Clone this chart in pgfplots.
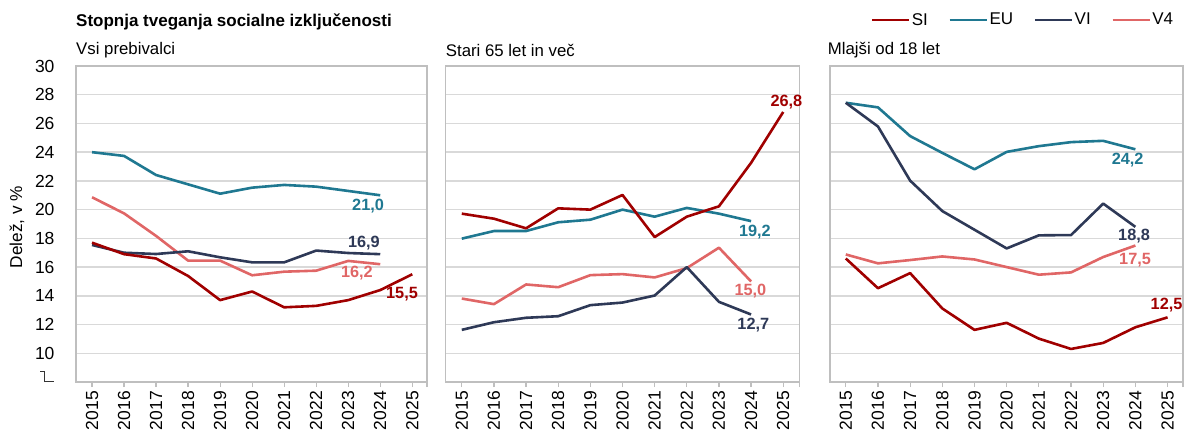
\documentclass[border=0pt]{standalone}
\usepackage{fontspec}
\setmainfont{Liberation Sans}
\usepackage{pgfplots}
\pgfplotsset{compat=1.18}
\definecolor{si}{HTML}{A00000}
\definecolor{eu}{HTML}{1F7891}
\definecolor{vi}{HTML}{2E3957}
\definecolor{vf}{HTML}{E06666}
\definecolor{gridc}{HTML}{D9D9D9}
\definecolor{boxc}{HTML}{BFBFBF}
\newcommand{\tickfont}{\fontsize{17.5}{17.5}\selectfont}
\newcommand{\lblfont}{\bfseries\fontsize{16.3}{16.3}\selectfont}
\pgfplotsset{
 panel/.style={
  scale only axis, height=316pt, anchor=south west,
  ymin=8, ymax=30,
  xtick={2015,...,2025},
  ytick={8,10,...,30},
  /pgf/number format/assume math mode=true,
  /pgf/number format/set thousands separator={},
  xticklabel style={rotate=90, anchor=east, font=\tickfont, inner sep=4pt},
  yticklabel style={font=\tickfont, xshift=-13pt},
  tick align=outside,
  xtick pos=bottom,
  major tick length=5pt,
  x tick style={boxc, line width=1.2pt},
  y tick style={draw=none},
  axis line style={boxc, line width=1.5pt},
  ymajorgrids, grid style={gridc, line width=1.5pt},
  every axis plot/.append style={line width=2.6pt, no markers, line join=round},
  clip=false,
 }}
\begin{document}
\begin{tikzpicture}
\path[use as bounding box] (0pt,0pt) rectangle (1185pt,433pt);
\node[anchor=west, font=\bfseries\fontsize{17}{17}\selectfont, inner sep=0pt] at (76pt,411.5pt) {Stopnja tveganja socialne izključenosti};
\node[anchor=west, font=\fontsize{16.8}{16.8}\selectfont, inner sep=0pt] at (76pt,382.5pt) {Vsi prebivalci};
\node[anchor=west, font=\fontsize{16.8}{16.8}\selectfont, inner sep=0pt] at (445.7pt,382.5pt) {Stari 65 let in več};
\node[anchor=west, font=\fontsize{16.8}{16.8}\selectfont, inner sep=0pt] at (827.7pt,382.5pt) {Mlajši od 18 let};
\node[rotate=90, font=\fontsize{17.2}{17.2}\selectfont, inner sep=0pt] at (17pt,206pt) {Delež, v \%};

% Panel 1
\begin{axis}[panel, at={(76pt,51pt)}, width=351pt, xmin=2014.5, xmax=2025.46,
  extra x ticks={2025.46}, extra x tick labels={},
  yticklabels={{\color{black!80}\rule[-11pt]{0pt}{11pt}\raisebox{10pt}{\rule{4pt}{1.1pt}}\rule{1.1pt}{11pt}\rule{9pt}{1.1pt}},10,12,14,16,18,20,22,24,26,28,30}]
\addplot[eu] coordinates {(2015,24.0)(2016,23.74)(2017,22.41)(2018,21.76)(2019,21.11)(2020,21.53)(2021,21.72)(2022,21.6)(2023,21.3)(2024,21.0)};
\addplot[vf] coordinates {(2015,20.86)(2016,19.74)(2017,18.17)(2018,16.45)(2019,16.45)(2020,15.43)(2021,15.68)(2022,15.75)(2023,16.43)(2024,16.2)};
\addplot[vi] coordinates {(2015,17.54)(2016,17.0)(2017,16.91)(2018,17.1)(2019,16.68)(2020,16.33)(2021,16.33)(2022,17.15)(2023,16.98)(2024,16.9)};
\addplot[si] coordinates {(2015,17.7)(2016,16.9)(2017,16.6)(2018,15.38)(2019,13.7)(2020,14.3)(2021,13.2)(2022,13.3)(2023,13.7)(2024,14.4)(2025,15.5)};
\node[font=\lblfont, text=eu] at (axis cs:2023.62,20.25) {21,0};
\node[font=\lblfont, text=vi] at (axis cs:2023.49,17.67) {16,9};
\node[font=\lblfont, text=vf] at (axis cs:2023.27,15.58) {16,2};
\node[font=\lblfont, text=si] at (axis cs:2024.68,14.12) {15,5};
\end{axis}

% Panel 2
\begin{axis}[panel, at={(445.7pt,51pt)}, width=353.6pt, xmin=2014.5, xmax=2025.5,
  extra x ticks={2025.5}, extra x tick labels={}, yticklabels={}]
\addplot[eu] coordinates {(2015,17.98)(2016,18.51)(2017,18.51)(2018,19.12)(2019,19.3)(2020,20.0)(2021,19.51)(2022,20.12)(2023,19.72)(2024,19.2)};
\addplot[vf] coordinates {(2015,13.81)(2016,13.42)(2017,14.79)(2018,14.6)(2019,15.44)(2020,15.51)(2021,15.28)(2022,15.93)(2023,17.35)(2024,15.0)};
\addplot[vi] coordinates {(2015,11.63)(2016,12.16)(2017,12.47)(2018,12.58)(2019,13.35)(2020,13.53)(2021,14.02)(2022,16.0)(2023,13.58)(2024,12.7)};
\addplot[si] coordinates {(2015,19.72)(2016,19.37)(2017,18.7)(2018,20.09)(2019,20.0)(2020,21.02)(2021,18.09)(2022,19.51)(2023,20.23)(2024,23.26)(2025,26.8)};
\node[font=\lblfont, text=si] at (axis cs:2025.1,27.49) {26,8};
\node[font=\lblfont, text=eu] at (axis cs:2024.12,18.47) {19,2};
\node[font=\lblfont, text=vf] at (axis cs:2023.98,14.3) {15,0};
\node[font=\lblfont, text=vi] at (axis cs:2024.07,11.98) {12,7};
\end{axis}

% Panel 3
\begin{axis}[panel, at={(830pt,51pt)}, width=353pt, xmin=2014.51, xmax=2025.48,
  extra x ticks={2025.48}, extra x tick labels={}, yticklabels={},
  legend columns=4,
  legend image code/.code={\draw[#1] (0pt,0pt) -- (37pt,0pt);},
  legend style={at={(0.977,1.146)}, anchor=east, draw=none, fill=none,
    font=\fontsize{17}{17}\selectfont, inner sep=0pt,
    nodes={inner sep=1.5pt},
    /tikz/every even column/.append style={column sep=19pt}}]
\addplot[si] coordinates {(2015,16.6)(2016,14.53)(2017,15.58)(2018,13.12)(2019,11.63)(2020,12.12)(2021,11.02)(2022,10.3)(2023,10.72)(2024,11.81)(2025,12.5)};
\addplot[eu] coordinates {(2015,27.44)(2016,27.12)(2017,25.12)(2018,23.95)(2019,22.81)(2020,24.02)(2021,24.42)(2022,24.7)(2023,24.79)(2024,24.2)};
\addplot[vi] coordinates {(2015,27.44)(2016,25.79)(2017,22.02)(2018,19.9)(2019,18.6)(2020,17.3)(2021,18.21)(2022,18.23)(2023,20.42)(2024,18.8)};
\addplot[vf] coordinates {(2015,16.88)(2016,16.26)(2017,16.49)(2018,16.74)(2019,16.53)(2020,16.0)(2021,15.47)(2022,15.63)(2023,16.7)(2024,17.5)};
\legend{SI,EU,VI,V4}
\node[font=\lblfont, text=eu] at (axis cs:2023.76,23.42) {24,2};
\node[font=\lblfont, text=vi] at (axis cs:2023.96,18.14) {18,8};
\node[font=\lblfont, text=vf] at (axis cs:2023.99,16.47) {17,5};
\node[font=\lblfont, text=si] at (axis cs:2024.97,13.33) {12,5};
\end{axis}
\end{tikzpicture}
\end{document}
